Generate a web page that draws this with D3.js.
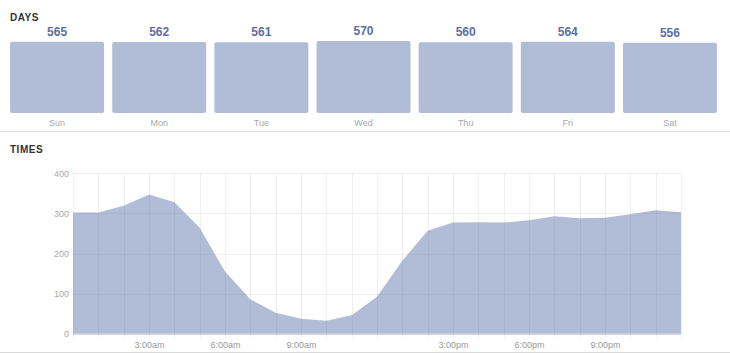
<!DOCTYPE html>
<html>
<head>
<meta charset="utf-8">
<script src="https://cdn.jsdelivr.net/npm/d3@7"></script>
<style>
  body { margin: 0; background: #fff; font-family: "Liberation Sans", Arial, sans-serif; }
</style>
</head>
<body>
<div id="chart-container"></div>
<script>
// data
const days = ["Sun", "Mon", "Tue", "Wed", "Thu", "Fri", "Sat"];
const dayValues = [565, 562, 561, 570, 560, 564, 556];

const hours = d3.range(0, 25);
const hourValues = [302, 302, 319, 347, 328, 264, 155, 86, 52, 37, 32, 46, 92,
                    182, 257, 277, 278, 277, 283, 293, 288, 289, 298, 308, 303];
const hourTickLabels = {3: "3:00am", 6: "6:00am", 9: "9:00am", 15: "3:00pm", 18: "6:00pm", 21: "9:00pm"};
const yTicks = [0, 100, 200, 300, 400];

const width = 730, height = 354;
const fill = "#b1bcd6";

const svg = d3.select("#chart-container")
  .append("svg")
  .attr("width", width)
  .attr("height", height);

// ---- DAYS ----
svg.append("text")
  .attr("x", 10).attr("y", 21)
  .style("font-size", "10px").style("font-weight", "bold")
  .style("letter-spacing", "0.5px")
  .attr("fill", "#333")
  .text("DAYS");

const xd = d3.scaleBand().domain(days).range([6, 721]).paddingInner(0.08).paddingOuter(0.04);
const yd = d3.scaleLinear().domain([0, 570]).range([113, 41]);

svg.append("g").selectAll("rect")
  .data(days)
  .join("rect")
    .attr("x", d => xd(d))
    .attr("y", (d, i) => yd(dayValues[i]))
    .attr("width", xd.bandwidth())
    .attr("height", (d, i) => yd(0) - yd(dayValues[i]))
    .attr("rx", 2)
    .attr("fill", fill);

svg.append("g").selectAll("text")
  .data(days)
  .join("text")
    .attr("x", d => xd(d) + xd.bandwidth() / 2)
    .attr("y", (d, i) => yd(dayValues[i]) - 6)
    .attr("text-anchor", "middle")
    .style("font-size", "12px").style("font-weight", "bold")
    .attr("fill", "#5b6fa6")
    .text((d, i) => dayValues[i]);

svg.append("g").selectAll("text")
  .data(days)
  .join("text")
    .attr("x", d => xd(d) + xd.bandwidth() / 2)
    .attr("y", 126)
    .attr("text-anchor", "middle")
    .style("font-size", "9px")
    .attr("fill", "#a8a8a8")
    .text(d => d);

svg.append("line").attr("x1", 0).attr("x2", width).attr("y1", 131.5).attr("y2", 131.5)
  .attr("stroke", "#dcdcdc");

// ---- TIMES ----
svg.append("text")
  .attr("x", 10).attr("y", 153)
  .style("font-size", "10px").style("font-weight", "bold")
  .style("letter-spacing", "0.5px")
  .attr("fill", "#333")
  .text("TIMES");

const x = d3.scaleLinear().domain([0, 24]).range([73, 681]);
const y = d3.scaleLinear().domain([0, 400]).range([333.7, 173.3]);

const area = d3.area()
  .x((d, i) => x(d))
  .y0(y(0))
  .y1((d, i) => y(hourValues[i]));

svg.append("path")
  .datum(hours)
  .attr("d", area)
  .attr("fill", fill);

// grid on top, faint
svg.append("g").selectAll("line")
  .data(hours)
  .join("line")
    .attr("x1", d => Math.round(x(d)) + 0.5).attr("x2", d => Math.round(x(d)) + 0.5)
    .attr("y1", y(400)).attr("y2", y(0) + 4)
    .attr("stroke", "rgba(120,120,140,0.12)");

svg.append("g").selectAll("line")
  .data(yTicks)
  .join("line")
    .attr("x1", x(0)).attr("x2", x(24))
    .attr("y1", d => Math.round(y(d)) + 0.5).attr("y2", d => Math.round(y(d)) + 0.5)
    .attr("stroke", d => d === 0 ? "rgba(120,120,140,0.3)" : "rgba(120,120,140,0.12)");

// y axis labels
const yAxis = d3.axisLeft(y).tickValues(yTicks).tickSize(0).tickPadding(4);
svg.append("g")
  .attr("transform", `translate(${x(0)},0)`)
  .call(yAxis)
  .call(g => g.select(".domain").remove())
  .selectAll("text")
    .style("font-size", "9px")
    .style("font-family", "'Liberation Sans', Arial, sans-serif")
    .attr("fill", "#aaa");

// x axis labels
const xAxis = d3.axisBottom(x)
  .tickValues(Object.keys(hourTickLabels).map(Number))
  .tickSize(0).tickPadding(8)
  .tickFormat(d => hourTickLabels[d]);
svg.append("g")
  .attr("transform", `translate(0,${y(0)})`)
  .call(xAxis)
  .call(g => g.select(".domain").remove())
  .selectAll("text")
    .style("font-size", "9px")
    .style("font-family", "'Liberation Sans', Arial, sans-serif")
    .attr("fill", "#999");

svg.append("line").attr("x1", 0).attr("x2", width).attr("y1", 352.5).attr("y2", 352.5)
  .attr("stroke", "#dcdcdc");
</script>
</body>
</html>
